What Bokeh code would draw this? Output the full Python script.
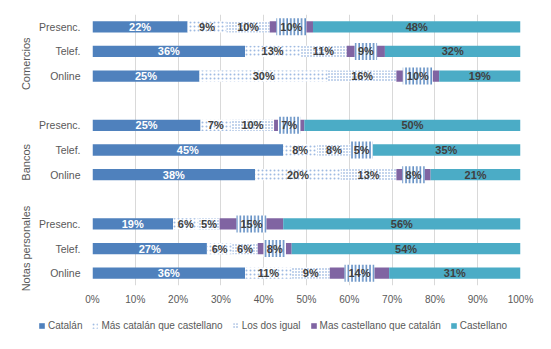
from bokeh.plotting import figure
from bokeh.models import (Range1d, FixedTicker, Legend, LegendItem, LinearAxis,
                          ColumnDataSource)
from bokeh.core.properties import value
from bokeh.embed import file_html
from bokeh.resources import INLINE

# ---------------- data ----------------
groups = ["Comercios", "Bancos", "Notas personales"]
rows = ["Presenc.", "Telef.", "Online"]
series_names = ["Catalán", "Más catalán que castellano", "Los dos igual",
                "Mas castellano que catalán", "Castellano"]
catalan        = [22, 36, 25, 25, 45, 38, 19, 27, 36]
mas_catalan    = [9, 13, 30, 7, 8, 20, 6, 6, 11]
dos_igual      = [10, 11, 16, 10, 8, 13, 5, 6, 9]
mas_castellano = [10, 9, 10, 7, 5, 8, 15, 8, 14]
castellano     = [48, 32, 19, 50, 35, 21, 56, 54, 31]
x_ticks = [0, 10, 20, 30, 40, 50, 60, 70, 80, 90, 100]
x_tick_labels = ["0%", "10%", "20%", "30%", "40%", "50%", "60%", "70%", "80%", "90%", "100%"]

FONT = "Liberation Sans"
GRAY = "#595959"

# slot layout: 3 rows per group + 1 empty slot between groups
step = len(rows) + 1
n_slots = len(groups) * step - 1
ypos, ylab = [], []
for g in range(len(groups)):
    for r in range(len(rows)):
        ypos.append(n_slots - (g * step + r))
        ylab.append(rows[r])
# each group's band includes the empty slot above the next group
group_centers = []
for g in range(len(groups)):
    top = n_slots + 0.5 - g * step
    bottom = max(0.5, top - step)
    group_centers.append((top + bottom) / 2)

p = figure(width=551, height=310, output_backend="svg", toolbar_location=None,
           title=None, x_range=Range1d(0, 100), y_range=Range1d(0.5, n_slots + 0.5),
           min_border_left=92, min_border_right=31, min_border_top=14,
           min_border_bottom=25)
p.outline_line_color = None
p.xgrid.grid_line_color = "#d9d9d9"
p.ygrid.grid_line_color = None

p.xaxis.ticker = FixedTicker(ticks=x_ticks)
p.xaxis.major_label_overrides = {t: l for t, l in zip(x_ticks, x_tick_labels)}
p.yaxis.ticker = FixedTicker(ticks=ypos)
p.yaxis.major_label_overrides = {y: l for y, l in zip(ypos, ylab)}

gaxis = LinearAxis(ticker=FixedTicker(ticks=group_centers),
                   major_label_overrides={c: g for c, g in zip(group_centers, groups)},
                   major_label_orientation="parallel")
p.add_layout(gaxis, "left")

for ax in (p.xaxis[0], p.yaxis[0], gaxis):
    ax.axis_line_color = None
    ax.major_tick_line_color = None
    ax.minor_tick_line_color = None
    ax.major_tick_out = 0
    ax.major_tick_in = 0
    ax.minor_tick_out = 0
    ax.major_label_text_font = FONT
    ax.major_label_text_color = GRAY
p.xaxis.major_label_text_font_size = "10px"
p.xaxis.major_label_standoff = 8
p.yaxis[0].major_label_text_font_size = "10.5px"
p.yaxis[0].major_label_standoff = 12
gaxis.major_label_text_font_size = "11px"
gaxis.major_label_standoff = 4

# normalised (100% stacked) segments
all_series = [catalan, mas_catalan, dos_igual, mas_castellano, castellano]
totals = [sum(s[i] for s in all_series) for i in range(len(ypos))]
styles = [
    dict(fill_color="#4f81bd"),
    dict(fill_color="white", hatch_pattern="dot", hatch_color="#9fbbe2",
         hatch_scale=4, hatch_weight=1),
    dict(fill_color="white", hatch_pattern="dot", hatch_color="#6e96d0",
         hatch_scale=3, hatch_weight=1.2),
    dict(fill_color="#8064a2"),
    dict(fill_color="#4bacc6"),
]
text_colors = ["white", "#404040", "#404040", "#404040", "#404040"]

BAR_H = 0.46
cum = [0.0] * len(ypos)
label_sources = []
for k, s in enumerate(all_series):
    left = list(cum)
    right = [cum[i] + 100.0 * s[i] / totals[i] for i in range(len(ypos))]
    cum = right
    src = ColumnDataSource(dict(y=ypos, left=left, right=right,
                                mid=[(a + b) / 2 for a, b in zip(left, right)],
                                txt=[f"{v}%" for v in s],
                                bw=[7.5 * len(f"{v}%") + 7.5 for v in s]))
    p.hbar(y="y", left="left", right="right", height=BAR_H, source=src,
           line_color=None, **styles[k])
    label_sources.append(src)

for k, src in enumerate(label_sources):
    if k == 3:
        p.rect(x="mid", y="y", width="bw", height=17, width_units="screen",
               height_units="screen", source=src, fill_color="white",
               line_color=None, hatch_pattern="vertical_line",
               hatch_color="#4f81bd", hatch_scale=3.6, hatch_weight=1.4)
    p.text(x="mid", y="y", text="txt", source=src, text_align="center",
           text_baseline="middle", text_font=value(FONT), text_font_style="bold",
           text_font_size="11px", text_color=text_colors[k])

# legend strip under the chart (separate root, so its frame spans the full width)
pl = figure(width=551, height=39, output_backend="svg", toolbar_location=None,
            title=None, x_range=Range1d(0, 1), y_range=Range1d(0, 1),
            x_axis_location=None, y_axis_location=None,
            min_border_left=0, min_border_right=0, min_border_top=0,
            min_border_bottom=0)
pl.outline_line_color = None
pl.grid.grid_line_color = None
legend_items = []
for k, name in enumerate(series_names):
    # zero-width proxy bar: only supplies the legend swatch style
    r = pl.hbar(y=[0], left=[0], right=[0], height=0.5, line_color=None, **styles[k])
    legend_items.append(LegendItem(label=name, renderers=[r]))
legend = Legend(items=legend_items, orientation="horizontal", location=(38, 18),
                glyph_width=7, glyph_height=7, label_standoff=3, spacing=9,
                padding=0, margin=0, border_line_color=None,
                background_fill_alpha=0, label_text_font=FONT,
                label_text_font_size="10px", label_text_color=GRAY,
                label_height=12)
pl.add_layout(legend, "center")

open("out.html", "w").write(file_html([p, pl], INLINE))
